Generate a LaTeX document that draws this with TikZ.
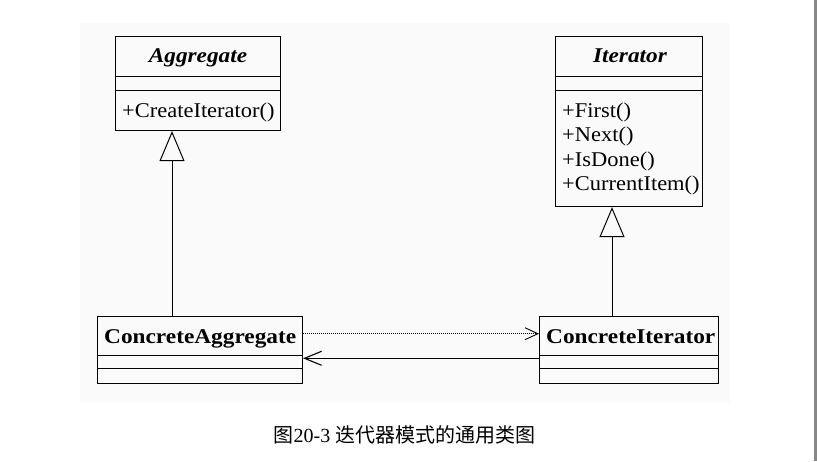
\documentclass[tikz,border=0pt]{standalone}
\usepackage{fontspec}
\setmainfont{Liberation Serif}
\newfontfamily\cjk{Noto Sans CJK SC}
\usetikzlibrary{arrows.meta}
\newcommand{\wideA}[1]{\scalebox{1.11}[1]{#1}}
\newcommand{\wideB}[1]{\scalebox{1.07}[1]{#1}}
\begin{document}
\begin{tikzpicture}[x=1pt,y=-1pt,
  box/.style={draw, line width=1.1pt, anchor=north west, inner sep=0pt},
  sep/.style={line width=1.1pt},
  title/.style={font=\bfseries\itshape\fontsize{21}{25}\selectfont, inner sep=0pt, anchor=base},
  ctitle/.style={font=\bfseries\fontsize{21}{25}\selectfont, inner sep=0pt, anchor=base west},
  meth/.style={font=\fontsize{21}{24.5}\selectfont, inner sep=0pt, anchor=base west},
  gen/.style={line width=1pt, -{Triangle[open, length=30pt, width=25pt, line width=1pt]}},
  dep/.style={line width=0.7pt, dash pattern=on 1pt off 1pt, -{Straight Barb[length=13pt, width=12pt, line width=0.9pt]}},
  assoc/.style={line width=1.4pt, -{Straight Barb[length=17pt, width=14pt, line width=1.1pt]}}]
\useasboundingbox (0,0) rectangle (817,461);
\fill[black!2] (80,23) rectangle (730,402);
\fill[black!47] (814,0) rectangle (817,461);

% Aggregate
\node[box, minimum width=165pt, minimum height=94pt] (agg) at (115,36) {};
\draw[sep] ([yshift=-40.7pt]agg.north west) -- ([yshift=-40.7pt]agg.north east);
\draw[sep] ([yshift=-54.3pt]agg.north west) -- ([yshift=-54.3pt]agg.north east);
\node[title] (aggT) at (198,62.3) {\wideA{Aggregate}};
\node[meth] (aggM) at (122,117.3) {\wideB{+CreateIterator()}};

% Iterator
\node[box, minimum width=147pt, minimum height=170pt] (it) at (555,36) {};
\draw[sep] ([yshift=-40.7pt]it.north west) -- ([yshift=-40.7pt]it.north east);
\draw[sep] ([yshift=-54.3pt]it.north west) -- ([yshift=-54.3pt]it.north east);
\node[title] (itT) at (630,62.3) {\wideA{Iterator}};
\node[meth] (itM1) at (562,117.3) {\wideB{+First()}};
\node[meth] (itM2) at (562,141.8) {\wideB{+Next()}};
\node[meth] (itM3) at (562,166.3) {\wideB{+IsDone()}};
\node[meth] (itM4) at (562,190.8) {\wideB{+CurrentItem()}};

% ConcreteAggregate
\node[box, minimum width=205pt, minimum height=67pt] (cagg) at (97,316) {};
\draw[sep] ([yshift=-39.3pt]cagg.north west) -- ([yshift=-39.3pt]cagg.north east);
\draw[sep] ([yshift=-52.3pt]cagg.north west) -- ([yshift=-52.3pt]cagg.north east);
\node[ctitle] (caggT) at (104,343.3) {\wideA{ConcreteAggregate}};

% ConcreteIterator
\node[box, minimum width=179pt, minimum height=67pt] (cit) at (539,316) {};
\draw[sep] ([yshift=-39.3pt]cit.north west) -- ([yshift=-39.3pt]cit.north east);
\draw[sep] ([yshift=-52.3pt]cit.north west) -- ([yshift=-52.3pt]cit.north east);
\node[ctitle] (citT) at (546,343.3) {\wideA{ConcreteIterator}};

% connectors
\draw[gen] ([xshift=75pt]cagg.north west) -- ([xshift=57pt]agg.south west);
\draw[gen] ([xshift=73pt]cit.north west) -- ([xshift=57pt]it.south west);
\draw[dep] ([yshift=-17.7pt]cagg.north east) -- ([yshift=-17.7pt]cit.north west);
\draw[assoc] ([yshift=-42.3pt]cit.north west) -- ([yshift=-42.3pt]cagg.north east);

% caption
\node[inner sep=0pt, font=\fontsize{20}{23}\selectfont] (cap) at (404.5,435) {{\cjk 图}20-3 {\cjk 迭代器模式的通用类图}};
\end{tikzpicture}
\end{document}
